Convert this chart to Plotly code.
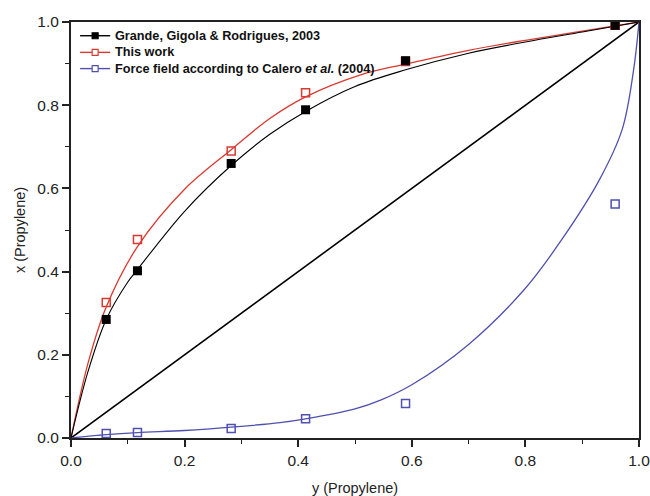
import plotly.graph_objects as go

# Experimental data (y = vapour fraction, x = liquid fraction of propylene)
grande_y = [0.062, 0.117, 0.282, 0.413, 0.589, 0.958]
grande_x = [0.285, 0.402, 0.660, 0.789, 0.907, 0.992]

this_y = [0.062, 0.117, 0.282, 0.413, 0.589, 0.958]
this_x = [0.326, 0.477, 0.690, 0.830, 0.905, 0.992]

calero_y = [0.062, 0.117, 0.282, 0.413, 0.589, 0.958]
calero_x = [0.011, 0.013, 0.023, 0.046, 0.083, 0.5625]

# Fitted curves
grande_curve_y = [0.0, 0.03, 0.062, 0.1, 0.117, 0.2, 0.282, 0.35, 0.413, 0.5, 0.589, 0.7, 0.8, 0.9, 1.0]
grande_curve_x = [0.0, 0.16, 0.285, 0.375, 0.405, 0.545, 0.655, 0.73, 0.785, 0.845, 0.885, 0.925, 0.952, 0.976, 1.0]

this_curve_y = [0.0, 0.03, 0.062, 0.117, 0.2, 0.282, 0.35, 0.413, 0.51, 0.589, 0.7, 0.8, 0.9, 1.0]
this_curve_x = [0.0, 0.18, 0.315, 0.46, 0.598, 0.693, 0.768, 0.82, 0.873, 0.899, 0.932, 0.956, 0.978, 1.0]

calero_curve_y = [0.0, 0.062, 0.117, 0.2, 0.282, 0.368, 0.413, 0.5, 0.545, 0.6, 0.7, 0.8, 0.863, 0.93, 0.97, 0.99, 1.0]
calero_curve_x = [0.0, 0.008, 0.013, 0.018, 0.026, 0.037, 0.046, 0.07, 0.091, 0.128, 0.225, 0.36, 0.475, 0.62, 0.74, 0.88, 1.0]

diag = [0.0, 1.0]

tick_vals = [0.0, 0.2, 0.4, 0.6, 0.8, 1.0]
tick_text = ["0.0", "0.2", "0.4", "0.6", "0.8", "1.0"]

legend_names = [
    "Grande, Gigola & Rodrigues, 2003",
    "This work",
    "Force field according to Calero <i>et al.</i> (2004)",
]

RED = "#d93a30"
BLUE = "#5050b0"
BLACK = "#000000"
FONT = "Liberation Sans, Arial, sans-serif"

fig = go.Figure()

fig.add_trace(go.Scatter(x=diag, y=diag, mode="lines", line=dict(color=BLACK, width=1.6),
                         showlegend=False, hoverinfo="skip"))
fig.add_trace(go.Scatter(x=calero_curve_y, y=calero_curve_x, mode="lines",
                         line=dict(color=BLUE, width=1.3, shape="spline", smoothing=1.0),
                         showlegend=False))
fig.add_trace(go.Scatter(x=this_curve_y, y=this_curve_x, mode="lines",
                         line=dict(color=RED, width=1.3, shape="spline", smoothing=1.0),
                         showlegend=False))
fig.add_trace(go.Scatter(x=grande_curve_y, y=grande_curve_x, mode="lines",
                         line=dict(color=BLACK, width=1.1, shape="spline", smoothing=1.0),
                         showlegend=False))
fig.add_trace(go.Scatter(x=calero_y, y=calero_x, mode="markers",
                         marker=dict(symbol="square-open", size=8, color=BLUE, line=dict(width=1.5)),
                         showlegend=False))
fig.add_trace(go.Scatter(x=this_y, y=this_x, mode="markers",
                         marker=dict(symbol="square-open", size=8, color=RED, line=dict(width=1.5)),
                         showlegend=False))
fig.add_trace(go.Scatter(x=grande_y, y=grande_x, mode="markers",
                         marker=dict(symbol="square", size=9, color=BLACK),
                         showlegend=False))

# Hand-built legend (tight row spacing like the original)
legend_colors = [BLACK, RED, BLUE]
legend_filled = [True, False, False]
row_y = [0.967, 0.927, 0.888]
kx0, kx1, kxm = 0.016, 0.069, 0.0425
for name, col, filled, yy in zip(legend_names, legend_colors, legend_filled, row_y):
    fig.add_shape(type="line", xref="paper", yref="paper", x0=kx0, x1=kx1, y0=yy, y1=yy,
                  line=dict(color=col, width=1.4), layer="above")
    fig.add_shape(type="rect", xref="paper", yref="paper",
                  xsizemode="pixel", ysizemode="pixel", xanchor=kxm, yanchor=yy,
                  x0=-3, x1=3, y0=-3, y1=3,
                  fillcolor=col if filled else "white",
                  line=dict(color=col, width=1.2), layer="above")
    fig.add_annotation(x=0.074, y=yy, xref="paper", yref="paper", xanchor="left", yanchor="middle",
                       text="<b>" + name + "</b>", showarrow=False,
                       font=dict(family=FONT, size=12.7, color="#111"))

axis_common = dict(
    range=[0, 1], tickmode="array", tickvals=tick_vals, ticktext=tick_text,
    ticks="outside", ticklen=7, tickwidth=1.5, tickcolor="#222",
    showline=True, linecolor="#222", linewidth=2, mirror=True,
    showgrid=False, zeroline=False, automargin=False,
    ticklabeloverflow="allow",
    tickfont=dict(family=FONT, size=15.5, color="#222"),
    minor=dict(ticks="outside", ticklen=4, tickwidth=1.2, tickcolor="#222", dtick=0.1, showgrid=False),
)

fig.update_layout(
    width=650, height=496,
    margin=dict(l=71, r=11, t=22, b=58),
    paper_bgcolor="white", plot_bgcolor="white",
    xaxis=dict(**axis_common, title=dict(text="y (Propylene)", standoff=18,
               font=dict(family=FONT, size=14.5, color="#222"))),
    yaxis=dict(**axis_common, title=dict(text="x (Propylene)", standoff=8,
               font=dict(family=FONT, size=14.5, color="#222"))),
    showlegend=False,
)

fig.write_html("out.html")
